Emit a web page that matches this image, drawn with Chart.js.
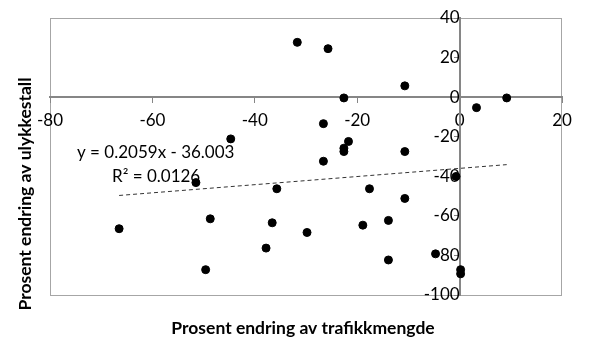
<!DOCTYPE html>
<html>
<head>
<meta charset="utf-8">
<script src="https://cdn.jsdelivr.net/npm/chart.js@4.4.0/dist/chart.umd.min.js"></script>
<style>
  body { margin: 0; background: #fff; }
</style>
</head>
<body>
<canvas id="myChart" width="595" height="350"></canvas>
<script>
// change in traffic volume (%) and change in accidents (%) per site
var trafficChange  = [-31.7, -25.7, -22.6, -10.7, 3.3, 9.2, -26.6, -21.7, -22.6, -22.6,
                      -10.7, -26.6, -0.7, -35.7, -17.6, -10.7, -13.9, -18.9, -29.8, -13.9,
                      -4.7, 0.2, 0.2, -44.7, -51.5, -66.5, -48.7, -36.6, -37.8, -49.6];
var accidentChange = [27.7, 24.5, -0.4, 5.7, -5.3, -0.4, -13.4, -22.4, -25.8, -27.5,
                      -27.5, -32.4, -40.1, -46.3, -46.3, -51.2, -62.3, -64.7, -68.4, -82.3,
                      -79.2, -87.2, -89.3, -21.1, -43.2, -66.5, -61.5, -63.5, -76.3, -87.2];
var xTicks = [-80, -60, -40, -20, 0, 20];
var yTicks = [40, 20, 0, -20, -40, -60, -80, -100];

// linear trend as reported on the chart
var slope = 0.2059;
var intercept = -36.003;
var rSquared = '0.0126';

var points = trafficChange.map(function (x, i) { return { x: x, y: accidentChange[i] }; });
var xMin = Math.min.apply(null, trafficChange);
var xMax = Math.max.apply(null, trafficChange);
var trend = [
    { x: xMin, y: slope * xMin + intercept },
    { x: xMax, y: slope * xMax + intercept }
];

var FONT = 'Lato, "Noto Sans", sans-serif';

// axes sit inside the plot, so they should not push the plot area around
function noPadding(axis) {
    axis.paddingTop = 0;
    axis.paddingBottom = 0;
    axis.paddingLeft = 0;
    axis.paddingRight = 0;
}

var decorations = {
    id: 'decorations',
    beforeDraw: function (chart) {
        var c = chart.ctx, a = chart.chartArea;
        c.save();
        c.strokeStyle = '#a6a6a6';
        c.lineWidth = 1;
        c.strokeRect(Math.round(a.left) + 0.5, Math.round(a.top) + 0.5,
                     Math.round(a.right - a.left) - 1, Math.round(a.bottom - a.top));
        c.restore();
    },
    afterDraw: function (chart) {
        var c = chart.ctx;
        c.save();
        c.fillStyle = '#000';
        // trend equation
        c.font = '17px ' + FONT;
        c.textAlign = 'left';
        c.textBaseline = 'middle';
        var eq = 'y = ' + slope + 'x - ' + Math.abs(intercept).toFixed(3);
        c.fillText(eq, 77, 153);
        c.fillText('R\u00B2 = ' + rSquared, 112, 177);
        // axis titles
        c.font = 'bold 17.5px ' + FONT;
        c.textAlign = 'center';
        c.fillText('Prosent endring av trafikkmengde', 303, 328);
        c.translate(25, 194);
        c.rotate(-Math.PI / 2);
        c.fillText('Prosent endring av ulykkestall', 0, 0);
        c.restore();
    }
};

var ctx = document.getElementById('myChart').getContext('2d');
var myChart = new Chart(ctx, {
    type: 'scatter',
    data: {
        datasets: [{
            label: 'Endring',
            data: points,
            backgroundColor: '#000',
            borderColor: '#000',
            pointRadius: 4,
            pointHoverRadius: 4
        }, {
            type: 'line',
            label: 'Trend',
            data: trend,
            borderColor: '#333',
            borderWidth: 1,
            borderDash: [4, 3],
            pointRadius: 0,
            fill: false
        }]
    },
    options: {
        responsive: false,
        animation: false,
        devicePixelRatio: 1,
        layout: { padding: { left: 50, top: 18, right: 33, bottom: 55 } },
        plugins: {
            legend: { display: false },
            tooltip: { enabled: false }
        },
        scales: {
            x: {
                type: 'linear',
                position: { y: 0 },
                min: xTicks[0],
                max: xTicks[xTicks.length - 1],
                afterBuildTicks: function (axis) {
                    axis.ticks = xTicks.map(function (v) { return { value: v }; });
                },
                afterFit: noPadding,
                grid: { drawOnChartArea: false, tickLength: 5, color: '#868686', tickWidth: 1 },
                border: { color: '#868686', width: 2 },
                ticks: { color: '#000', font: { family: FONT, size: 17 }, padding: 8, maxRotation: 0 }
            },
            y: {
                type: 'linear',
                position: { x: 0 },
                min: yTicks[yTicks.length - 1],
                max: yTicks[0],
                afterBuildTicks: function (axis) {
                    axis.ticks = yTicks.map(function (v) { return { value: v }; });
                },
                afterFit: noPadding,
                grid: { drawOnChartArea: false, tickLength: 5, color: '#868686', tickWidth: 1 },
                border: { color: '#868686', width: 2 },
                ticks: { color: '#000', font: { family: FONT, size: 17 }, padding: 13 }
            }
        }
    },
    plugins: [decorations]
});
</script>
</body>
</html>
